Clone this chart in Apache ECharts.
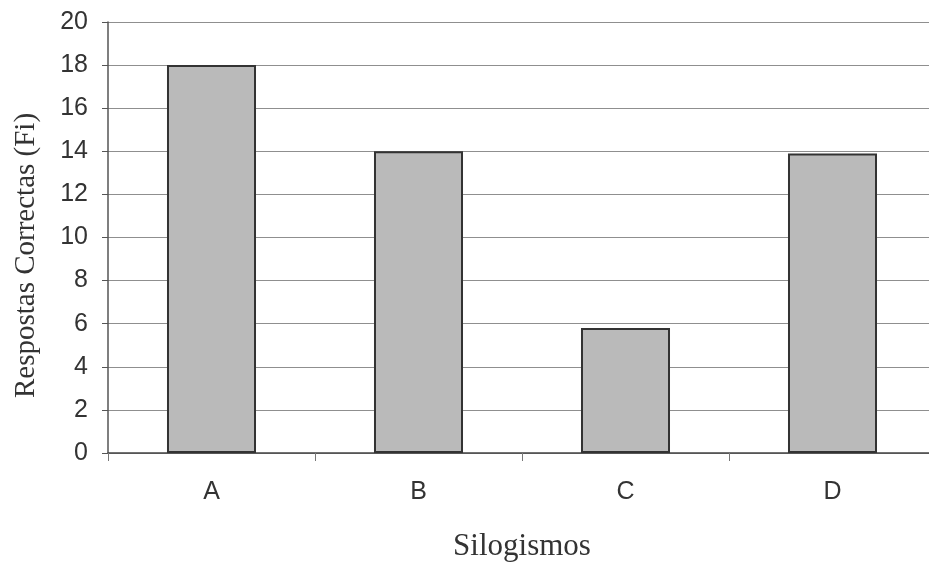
<!DOCTYPE html>
<html><head><meta charset="utf-8">
<script src="https://cdn.jsdelivr.net/npm/echarts@6/dist/echarts.min.js"></script>
<style>html,body{margin:0;padding:0;background:#fff}#c{width:929px;height:562px}</style>
</head><body><div id="c"></div>
<script>
const categories = ['A', 'B', 'C', 'D'];
const values = [18, 14, 5.8, 13.9];
const yTicks = { min: 0, max: 20, interval: 2 };
const xName = 'Silogismos';
const yName = 'Respostas Correctas (Fi)';

const chart = echarts.init(document.getElementById('c'));
chart.setOption({
  animation: false,
  backgroundColor: '#fff',
  grid: { left: 108, right: -7, top: 22, bottom: 109, containLabel: false, outerBoundsMode: 'none' },
  xAxis: {
    type: 'category', data: categories,
    name: xName, nameLocation: 'middle', nameGap: 78,
    nameTextStyle: { fontFamily: 'Liberation Serif', fontSize: 31, color: '#333' },
    axisLine: { lineStyle: { color: '#444', width: 1.5 } },
    axisTick: { show: true, length: 8, lineStyle: { color: '#777' } },
    axisLabel: { fontFamily: 'Liberation Sans', fontSize: 25, color: '#333', margin: 27 }
  },
  yAxis: {
    type: 'value', min: yTicks.min, max: yTicks.max, interval: yTicks.interval,
    name: yName, nameLocation: 'middle', nameGap: 67, nameRotate: 90,
    nameTextStyle: { fontFamily: 'Liberation Serif', fontSize: 29, color: '#333', padding: [0, 36, 0, 0] },
    axisLine: { show: true, lineStyle: { color: '#555', width: 1.5 } },
    axisTick: { show: true, length: 6, lineStyle: { color: '#555' } },
    axisLabel: { fontFamily: 'Liberation Sans', fontSize: 25, color: '#333', margin: 20 },
    splitLine: { show: true, lineStyle: { color: '#8f8f8f', width: 1 } }
  },
  series: [{
    type: 'bar', data: values, barWidth: '43%',
    itemStyle: { color: '#bababa', borderColor: '#333', borderWidth: 2 }
  }]
});
</script></body></html>
